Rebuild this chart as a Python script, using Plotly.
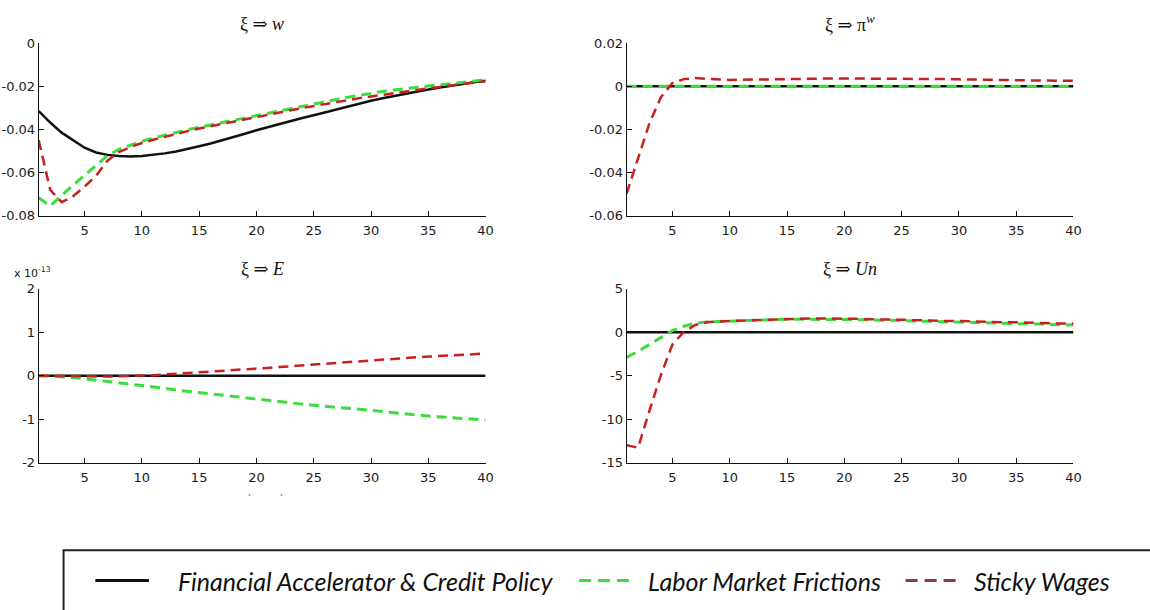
import plotly.graph_objects as go

# Horizon (quarters)
periods = list(range(1, 41))

# Impulse responses of the wage-markup shock xi
w_fa = [-0.0315, -0.0368, -0.0415, -0.0452, -0.0485, -0.0507, -0.0518, -0.0523, -0.0525, -0.0523,
        -0.0518, -0.0511, -0.0502, -0.0491, -0.0478, -0.0465, -0.0451, -0.0436, -0.0420, -0.0404,
        -0.0389, -0.0375, -0.0361, -0.0347, -0.0334, -0.0320, -0.0306, -0.0292, -0.0279, -0.0267,
        -0.0256, -0.0245, -0.0234, -0.0224, -0.0215, -0.0206, -0.0197, -0.0189, -0.0181, -0.0174]
w_lmf = [-0.0717, -0.0755, -0.0705, -0.0657, -0.0612, -0.0567, -0.0522, -0.0492, -0.0472, -0.0455,
         -0.0440, -0.0426, -0.0413, -0.0401, -0.0390, -0.0379, -0.0368, -0.0358, -0.0347, -0.0337,
         -0.0326, -0.0315, -0.0304, -0.0292, -0.0281, -0.0271, -0.0261, -0.0251, -0.0241, -0.0232,
         -0.0224, -0.0217, -0.0210, -0.0204, -0.0199, -0.0193, -0.0187, -0.0181, -0.0176, -0.0171]
w_sw = [-0.0450, -0.0680, -0.0737, -0.0710, -0.0665, -0.0615, -0.0545, -0.0505, -0.0482, -0.0463,
        -0.0448, -0.0434, -0.0421, -0.0408, -0.0396, -0.0385, -0.0374, -0.0363, -0.0352, -0.0342,
        -0.0332, -0.0321, -0.0311, -0.0301, -0.0291, -0.0282, -0.0273, -0.0264, -0.0255, -0.0247,
        -0.0239, -0.0231, -0.0224, -0.0217, -0.0210, -0.0203, -0.0196, -0.0189, -0.0183, -0.0177]

piw_fa = [0.0] * 40
piw_lmf = [0.0] * 40
piw_sw = [-0.0498, -0.0330, -0.0170, -0.0050, 0.0015, 0.0033, 0.0038, 0.0034, 0.0031, 0.0029,
          0.0030, 0.0031, 0.0033, 0.0034, 0.0035, 0.0036, 0.0036, 0.0036, 0.0036, 0.0036,
          0.0036, 0.0036, 0.0035, 0.0035, 0.0035, 0.0034, 0.0034, 0.0033, 0.0033, 0.0032,
          0.0032, 0.0031, 0.0030, 0.0029, 0.0028, 0.0028, 0.0027, 0.0026, 0.0026, 0.0025]

# E responses in units of 1e-13
e_fa = [0.0] * 40
e_lmf = [0.0, -0.01, -0.02, -0.04, -0.07, -0.10, -0.13, -0.16, -0.19, -0.22,
         -0.26, -0.29, -0.33, -0.36, -0.40, -0.43, -0.46, -0.49, -0.52, -0.55,
         -0.58, -0.60, -0.63, -0.655, -0.68, -0.70, -0.73, -0.75, -0.775, -0.80,
         -0.83, -0.855, -0.88, -0.905, -0.93, -0.95, -0.97, -0.99, -1.005, -1.02]
e_sw = [0.0, -0.005, -0.01, -0.015, -0.02, -0.022, -0.02, -0.015, -0.01, 0.0,
        0.01, 0.03, 0.045, 0.06, 0.075, 0.09, 0.105, 0.125, 0.145, 0.165,
        0.18, 0.20, 0.22, 0.24, 0.26, 0.28, 0.30, 0.32, 0.34, 0.36,
        0.375, 0.39, 0.41, 0.425, 0.44, 0.455, 0.47, 0.485, 0.50, 0.51]

un_fa = [0.0] * 40
un_lmf = [-2.9, -2.2, -1.4, -0.6, 0.2, 0.7, 1.05, 1.2, 1.25, 1.3,
          1.35, 1.4, 1.45, 1.5, 1.5, 1.5, 1.5, 1.5, 1.5, 1.5,
          1.45, 1.45, 1.4, 1.4, 1.35, 1.3, 1.3, 1.25, 1.2, 1.2,
          1.15, 1.1, 1.1, 1.05, 1.0, 1.0, 0.95, 0.9, 0.9, 0.85]
un_sw = [-13.0, -13.3, -9.0, -4.9, -1.4, 0.05, 0.85, 1.15, 1.25, 1.3,
         1.35, 1.4, 1.45, 1.5, 1.55, 1.6, 1.6, 1.6, 1.6, 1.6,
         1.55, 1.5, 1.5, 1.45, 1.45, 1.4, 1.35, 1.35, 1.3, 1.3,
         1.25, 1.25, 1.2, 1.15, 1.15, 1.1, 1.1, 1.05, 1.0, 1.0]

panel_titles = ["ξ ⇒ <i>w</i>", "ξ ⇒ π<sup><i>w</i></sup>", "ξ ⇒ <i>E</i>", "ξ ⇒ <i>Un</i>"]
series_names = ["Financial Accelerator & Credit Policy", "Labor Market Frictions", "Sticky Wages"]
x_ticks = [5, 10, 15, 20, 25, 30, 35, 40]
y_ticks = [[0, -0.02, -0.04, -0.06, -0.08],
           [0.02, 0, -0.02, -0.04, -0.06],
           [2, 1, 0, -1, -2],
           [5, 0, -5, -10, -15]]
y_tick_text = [["0", "-0.02", "-0.04", "-0.06", "-0.08"],
               ["0.02", "0", "-0.02", "-0.04", "-0.06"],
               ["2", "1", "0", "-1", "-2"],
               ["5", "0", "-5", "-10", "-15"]]
y_ranges = [[-0.08, 0], [-0.06, 0.02], [-2, 2], [-15, 5]]

panels = [(w_fa, w_lmf, w_sw), (piw_fa, piw_lmf, piw_sw), (e_fa, e_lmf, e_sw), (un_fa, un_lmf, un_sw)]

W, H = 1150, 610
BLACK = "#111111"
GREEN = "#3ddc3d"
RED = "#c62020"
LEG_RED = "#8e3b3b"

def px_x(p):
    return p / W

def px_y(p):
    return 1 - p / H

# Plot-area boundaries in pixels: (left, right, top, bottom)
boxes = [(39, 489, 37, 214), (631, 1081, 37, 214), (39, 489, 289, 467), (631, 1081, 289, 467)]

fig = go.Figure()
tick_font = dict(family="Liberation Sans Narrow, DejaVu Sans, sans-serif", size=13, color="#1a1a1a")

for i, (fa, lmf, sw) in enumerate(panels):
    n = i + 1
    xa = "x" if n == 1 else f"x{n}"
    ya = "y" if n == 1 else f"y{n}"
    fig.add_trace(go.Scatter(x=periods, y=fa, mode="lines", xaxis=xa, yaxis=ya, showlegend=False,
                             line=dict(color=BLACK, width=2.5)))
    fig.add_trace(go.Scatter(x=periods, y=lmf, mode="lines", xaxis=xa, yaxis=ya, showlegend=False,
                             line=dict(color=GREEN, width=3, dash="10px,6px")))
    fig.add_trace(go.Scatter(x=periods, y=sw, mode="lines", xaxis=xa, yaxis=ya, showlegend=False,
                             line=dict(color=RED, width=2.5, dash="10px,6px")))

    l, r, t, b = boxes[i]
    axis_common = dict(showline=True, linecolor="#111111", linewidth=1, ticks="inside", ticklen=5,
                       tickcolor="#111111", showgrid=False, zeroline=False, tickfont=tick_font,
                       mirror=False, fixedrange=True)
    fig.update_layout({
        ("xaxis" if n == 1 else f"xaxis{n}"): dict(
            domain=[px_x(l), px_x(r)], range=[1, 40], tickvals=x_ticks, anchor=ya,
            ticklabelstandoff=3, **axis_common),
        ("yaxis" if n == 1 else f"yaxis{n}"): dict(
            domain=[px_y(b), px_y(t)], range=y_ranges[i], tickvals=y_ticks[i],
            ticktext=y_tick_text[i], anchor=xa, **axis_common),
    })

    fig.add_annotation(x=px_x((l + r) / 2), y=px_y(t - 20), xref="paper", yref="paper",
                       text=panel_titles[i], showarrow=False, xanchor="center", yanchor="middle",
                       font=dict(family="Liberation Serif, DejaVu Serif, serif", size=18, color="#111111"))

# Exponent label for the E panel
fig.add_annotation(x=px_x(12), y=px_y(282), xref="paper", yref="paper", text="x 10<sup>-13</sup>",
                   showarrow=False, xanchor="left", yanchor="bottom",
                   font=dict(family="Liberation Sans Narrow, DejaVu Sans, sans-serif", size=11,
                             color="#1a1a1a"))

# Small stray marks below the E panel
for mx in (248, 280):
    fig.add_annotation(x=px_x(mx), y=px_y(514), xref="paper", yref="paper", text="`",
                       showarrow=False, font=dict(size=10, color="#555555"))

# Legend frame
fig.add_shape(type="rect", xref="paper", yref="paper", x0=px_x(64), x1=1.02, y0=px_y(557), y1=-0.05,
              line=dict(color="#222222", width=2))

leg_y = px_y(588)
legend_items = [
    (96, 150, BLACK, "solid", 177),
    (583, 634, GREEN, "12px,7px", 651),
    (912, 963, LEG_RED, "12px,7px", 979),
]
for (x0, x1, col, dash, tx), name in zip(legend_items, series_names):
    fig.add_shape(type="line", xref="paper", yref="paper", x0=px_x(x0), x1=px_x(x1), y0=leg_y, y1=leg_y,
                  line=dict(color=col, width=3, dash=dash))
    fig.add_annotation(x=px_x(tx), y=leg_y, xref="paper", yref="paper", text=f"<i>{name}</i>",
                       showarrow=False, xanchor="left", yanchor="middle",
                       font=dict(family="Lato, Open Sans, sans-serif", size=25, color="#111111"))

fig.update_layout(width=W, height=H, margin=dict(l=0, r=0, t=0, b=0),
                  paper_bgcolor="white", plot_bgcolor="white", showlegend=False)

fig.write_html("out.html", config={"displayModeBar": False})
